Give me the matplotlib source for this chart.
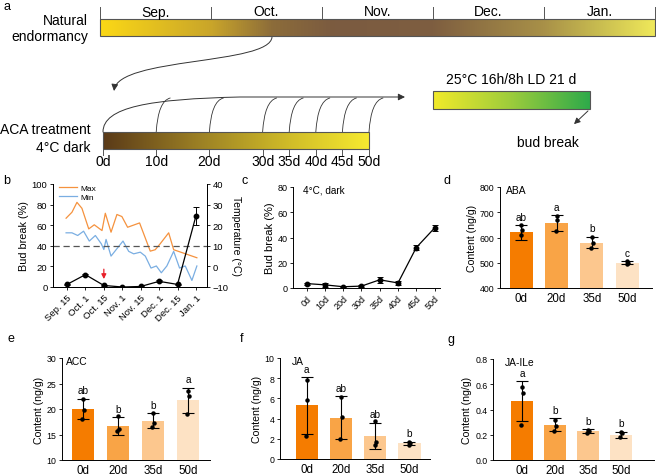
import matplotlib
matplotlib.use("Agg")
import matplotlib.pyplot as plt
from matplotlib.colors import LinearSegmentedColormap
from matplotlib.patches import Rectangle, FancyArrowPatch
from matplotlib.path import Path
import numpy as np

plt.rcParams["font.family"] = ["Liberation Sans", "DejaVu Sans"]
plt.rcParams["axes.linewidth"] = 0.7

W, H = 656, 477

# ---- data ----
months = ["Sep.", "Oct.", "Nov.", "Dec.", "Jan."]
aca_days = [0, 10, 20, 30, 35, 40, 45, 50]

date_labels = ["Sep. 15", "Oct. 1", "Oct. 15", "Nov. 1", "Nov. 15", "Dec. 1", "Dec. 15", "Jan. 1"]
bud_natural = [2.5, 12, 1.5, 0, 0.5, 5.5, 2.5, 69]
bud_natural_sd = [0.5, 1, 0.5, 0.3, 0.3, 1, 0.5, 9]
tmax_pos = [-0.05, 0.27, 0.54, 0.81, 1.18, 1.48, 1.9, 2.08, 2.39, 2.71, 2.98, 3.29,
            3.94, 4.52, 4.79, 5.06, 5.52, 5.79, 7.05]
tmax = [23.4, 26.3, 31.1, 28.2, 18.2, 20.2, 17.4, 25.8, 16.6, 25.2, 24.2, 19.0,
        21.1, 7.4, 8.1, 11.0, 16.3, 8.1, 4.2]
tmin_pos = [-0.05, 0.27, 0.58, 0.9, 1.21, 1.54, 1.86, 2.0, 2.12, 2.39, 3.04, 3.35,
            3.62, 3.98, 4.25, 4.56, 4.85, 5.12, 5.42, 5.79, 6.11, 6.42, 6.78, 7.05]
tmin = [16.3, 16.3, 15.0, 17.1, 12.3, 15.0, 11.0, 8.2, 13.1, 5.0, 12.3, 7.3,
        6.1, 6.9, 5.0, -0.8, 0.2, -3.1, 0.2, 7.3, -0.8, 0.2, -6.8, 0.2]

aca_labels = ["0d", "10d", "20d", "30d", "35d", "40d", "45d", "50d"]
bud_aca = [3.5, 2.5, 1, 1.5, 6.5, 4, 32, 47.5]
bud_aca_sd = [0.8, 1.5, 0.5, 0.5, 2.2, 1.5, 2, 2.5]

hormone_days = ["0d", "20d", "35d", "50d"]
aba_mean = [620, 657, 580, 500]
aba_sd = [28, 31, 23, 6]
aba_reps = [[650, 630, 608], [685, 668, 625], [602, 580, 560], [506, 500, 497]]
aba_letters = ["ab", "a", "b", "c"]

acc_mean = [20, 16.7, 17.7, 21.7]
acc_sd = [2, 1.7, 1.5, 2.5]
acc_reps = [[22, 19.8, 18], [18.6, 16, 15.6], [19.2, 17.3, 16.5], [23.6, 22.5, 19]]
acc_letters = ["ab", "b", "b", "a"]

ja_mean = [5.3, 4.1, 2.3, 1.55]
ja_sd = [2.8, 2.1, 1.3, 0.15]
ja_reps = [[7.8, 5.8, 2.3], [6.1, 4.2, 2.0], [3.8, 1.7, 1.4], [1.7, 1.6, 1.4]]
ja_letters = ["a", "ab", "ab", "b"]

jaile_mean = [0.465, 0.28, 0.23, 0.20]
jaile_sd = [0.16, 0.05, 0.015, 0.022]
jaile_reps = [[0.58, 0.53, 0.28], [0.32, 0.27, 0.23], [0.24, 0.23, 0.21], [0.22, 0.21, 0.18]]
jaile_letters = ["a", "b", "b", "b"]

bar_colors = ["#f57c00", "#f9a446", "#fcc78e", "#fde2c4"]
ORANGE = "#f5923e"
BLUE = "#7aaee2"

fig = plt.figure(figsize=(6.56, 4.77), dpi=100)


def px_axes(left, top, right, bottom):
    return fig.add_axes([left / W, 1 - bottom / H, (right - left) / W, (bottom - top) / H])


# ---- panel a (pixel coordinates) ----
ax = fig.add_axes([0, 0, 1, 1])
ax.set_facecolor("none")
grad = np.linspace(0, 1, 256)[None, :]

top_cmap = LinearSegmentedColormap.from_list("top", [
    (0, "#fbd816"), (0.2, "#c9a52a"), (0.31, "#8c6c3a"), (0.42, "#7b5b40"),
    (0.6, "#7e5e40"), (0.8, "#a89048"), (0.9, "#c8bc50"), (1, "#efe85a")])
aca_cmap = LinearSegmentedColormap.from_list("aca", [
    (0, "#5a3a18"), (0.35, "#9a7e24"), (0.7, "#d0bc28"), (1, "#f6ea30")])
green_cmap = LinearSegmentedColormap.from_list("grn", [
    (0, "#f2ea2a"), (0.5, "#9ccc3c"), (1, "#2eaa4a")])
FS_A = 10


def grad_bar(x0, x1, y0, y1, cmap):
    ax.imshow(grad, extent=(x0, x1, y1, y0), aspect="auto", cmap=cmap, zorder=1)
    ax.add_patch(Rectangle((x0, y0), x1 - x0, y1 - y0, fill=False,
                           edgecolor="#555555", lw=0.8, zorder=2))


# natural endormancy bar
grad_bar(100, 655, 20, 37, top_cmap)
month_w = (655 - 100) / len(months)
for i, m in enumerate(months):
    ax.plot([100 + i * month_w] * 2, [8, 20], color="#555555", lw=0.7)
    ax.text(100 + (i + 0.5) * month_w, 12.5, m, ha="center", va="center", fontsize=FS_A)
ax.plot([655, 655], [8, 20], color="#555555", lw=0.7)
ax.text(88, 21, "Natural", ha="right", va="center", fontsize=FS_A)
ax.text(88, 37, "endormancy", ha="right", va="center", fontsize=FS_A)

# arrow from October down to ACA treatment
p = Path([(272, 38), (270, 66), (118, 58), (114, 92)],
         [Path.MOVETO, Path.CURVE4, Path.CURVE4, Path.CURVE4])
ax.add_patch(FancyArrowPatch(path=p, arrowstyle="-|>", mutation_scale=10,
                             color="#333333", lw=0.7))

# ACA treatment bar
ax0, ax1 = 103, 369
BAR_T, BAR_B = 133, 150
grad_bar(ax0, ax1, BAR_T, BAR_B, aca_cmap)
ax.text(91, 130, "ACA treatment", ha="right", va="center", fontsize=FS_A)
ax.text(91, 148, "4°C dark", ha="right", va="center", fontsize=FS_A)


def day_x(d):
    return ax0 + d * (ax1 - ax0) / aca_days[-1]


for d in aca_days:
    x = day_x(d)
    ax.plot([x, x], [BAR_B, BAR_B + 6], color="#555555", lw=0.7)
    ax.text(x, 162, f"{d}d", ha="center", va="center", fontsize=FS_A)

# transfer arrow and its branches
LINE_Y = 98
p = Path([(ax0, BAR_T), (ax0, 108), (150, 100), (240, LINE_Y), (405, LINE_Y)],
         [Path.MOVETO, Path.CURVE4, Path.CURVE4, Path.CURVE4, Path.LINETO])
ax.add_patch(FancyArrowPatch(path=p, arrowstyle="-|>", mutation_scale=10,
                             color="#333333", lw=0.7))
for d in aca_days[1:]:
    x = day_x(d)
    p = Path([(x, BAR_T), (x + 2, 102), (x + 14, LINE_Y + 1)],
             [Path.MOVETO, Path.CURVE3, Path.CURVE3])
    ax.add_patch(FancyArrowPatch(path=p, arrowstyle="-", color="#333333", lw=0.6))

# forcing bar
grad_bar(433, 590, 92, 110, green_cmap)
ax.text(511, 80, "25°C 16h/8h LD 21 d", ha="center", va="center", fontsize=FS_A)
ax.add_patch(FancyArrowPatch((590, 110), (572, 127), arrowstyle="-|>",
                             mutation_scale=9, color="#333333", lw=0.7))
ax.text(548, 143, "bud break", ha="center", va="center", fontsize=FS_A)

for lab, x, y in [("a", 3, 7), ("b", 3, 181), ("c", 242, 181), ("d", 444, 181),
                  ("e", 8, 339), ("f", 240, 339), ("g", 448, 340)]:
    ax.text(x, y, lab, ha="left", va="center", fontsize=9)

ax.set_xlim(0, W)
ax.set_ylim(H, 0)
ax.axis("off")


def style(a, tick=6.5):
    a.spines["top"].set_visible(False)
    a.spines["right"].set_visible(False)
    a.tick_params(labelsize=tick, length=2.5, width=0.6, pad=1.5)


# ---- panel b ----
axb = px_axes(53, 185, 207, 288)
axt = axb.twinx()
xs = np.arange(len(date_labels))
axt.plot(tmax_pos, tmax, color=ORANGE, lw=0.9)
axt.plot(tmin_pos, tmin, color=BLUE, lw=0.9)
axt.axhline(10, color="#555555", lw=0.9, dashes=(5, 3))
axt.set_ylim(-10, 40)
axt.set_yticks(range(-10, 41, 10))
axt.tick_params(labelsize=6.8, length=2.5, width=0.6, pad=1.5)
axt.spines["top"].set_visible(False)
axt.set_ylabel("Temperature (°C)", rotation=270, fontsize=7.5, labelpad=9)

axb.set_zorder(axt.get_zorder() + 1)
axb.patch.set_visible(False)
axb.errorbar(xs, bud_natural, yerr=bud_natural_sd, color="black", marker="o", ms=3.2,
             lw=0.9, capsize=2.5, elinewidth=0.7, capthick=0.7)
axb.annotate("", xy=(2, 5), xytext=(2, 20),
             arrowprops=dict(arrowstyle="-|>", color="#e8202a", lw=0.9, mutation_scale=7))
axb.plot([], [], color=ORANGE, lw=0.9, label="Max")
axb.plot([], [], color=BLUE, lw=0.9, label="Min")
axb.legend(loc="upper left", frameon=False, fontsize=6, handlelength=2.2,
           borderaxespad=0.1, labelspacing=0.1, handletextpad=0.4,
           bbox_to_anchor=(0.01, 1.04))
axb.set_ylim(0, 100)
axb.set_xlim(-0.76, 7.6)
axb.set_xticks(xs)
axb.set_xticklabels(date_labels, rotation=45, ha="right", rotation_mode="anchor", fontsize=6)
axb.tick_params(labelsize=6.8, length=2.5, width=0.6, pad=1.5)
axb.spines["top"].set_visible(False)
axb.set_ylabel("Bud break (%)", fontsize=7.8, labelpad=2)

# ---- panel c ----
axc = px_axes(293, 188, 440, 289)
style(axc)
xc = np.arange(len(aca_labels))
axc.errorbar(xc, bud_aca, yerr=bud_aca_sd, color="black", marker="o", ms=3.2, lw=0.9,
             capsize=2, elinewidth=0.7, capthick=0.7)
axc.set_ylim(0, 80)
axc.set_yticks(range(0, 81, 20))
axc.set_xlim(-0.75, 7.3)
axc.set_xticks(xc)
axc.set_xticklabels(aca_labels, rotation=45, ha="right", rotation_mode="anchor", fontsize=6.5)
axc.set_ylabel("Bud break (%)", fontsize=8, labelpad=2)
axc.text(0.07, 0.98, "4°C, dark", transform=axc.transAxes, fontsize=7.2, va="center")


# ---- bar panels ----
def draw_bars(a, means, sds, reps, letters, ylim, yticks, xlim, title, title_x, fmt=None):
    style(a, 6.3)
    xb = np.arange(len(hormone_days))
    a.bar(xb, means, width=0.65, color=bar_colors, zorder=1)
    a.errorbar(xb, means, yerr=sds, fmt="none", ecolor="black", elinewidth=0.8,
               capsize=4.5, capthick=0.8, zorder=3)
    for i, r in enumerate(reps):
        a.plot(xb[i] + np.array([0.0, 0.02, -0.02]), r, "o", color="black", ms=2.2, zorder=4)
    span = ylim[1] - ylim[0]
    for i, lab in enumerate(letters):
        a.text(xb[i], means[i] + sds[i] + 0.035 * span, lab, ha="center", va="bottom",
               fontsize=7.2)
    a.set_ylim(*ylim)
    a.set_yticks(yticks)
    if fmt:
        a.set_yticklabels([fmt.format(t) for t in yticks])
    a.set_xlim(*xlim)
    a.set_xticks(xb)
    a.set_xticklabels(hormone_days, fontsize=8.3)
    a.tick_params(axis="x", length=0, pad=3)
    a.set_ylabel("Content (ng/g)", fontsize=7.6, labelpad=2)
    a.text(title_x, 0.97, title, transform=a.transAxes, fontsize=7.4, va="center")


axd = px_axes(500, 188, 652, 289)
draw_bars(axd, aba_mean, aba_sd, aba_reps, aba_letters, (400, 800), range(400, 801, 100),
          (-0.6, 3.7), "ABA", 0.04)
axe = px_axes(62, 359, 210, 461)
draw_bars(axe, acc_mean, acc_sd, acc_reps, acc_letters, (10, 30), range(10, 31, 5),
          (-0.6, 3.63), "ACC", 0.03)
axf = px_axes(280, 359, 430, 460)
draw_bars(axf, ja_mean, ja_sd, ja_reps, ja_letters, (0, 10), range(0, 11, 2),
          (-0.78, 3.6), "JA", 0.08)
axg = px_axes(493, 360, 654, 461)
draw_bars(axg, jaile_mean, jaile_sd, jaile_reps, jaile_letters, (0, 0.8),
          [0, 0.2, 0.4, 0.6, 0.8], (-0.88, 4.0), "JA-ILe", 0.075, fmt="{:.1f}")

fig.savefig("out.png", dpi=100)
